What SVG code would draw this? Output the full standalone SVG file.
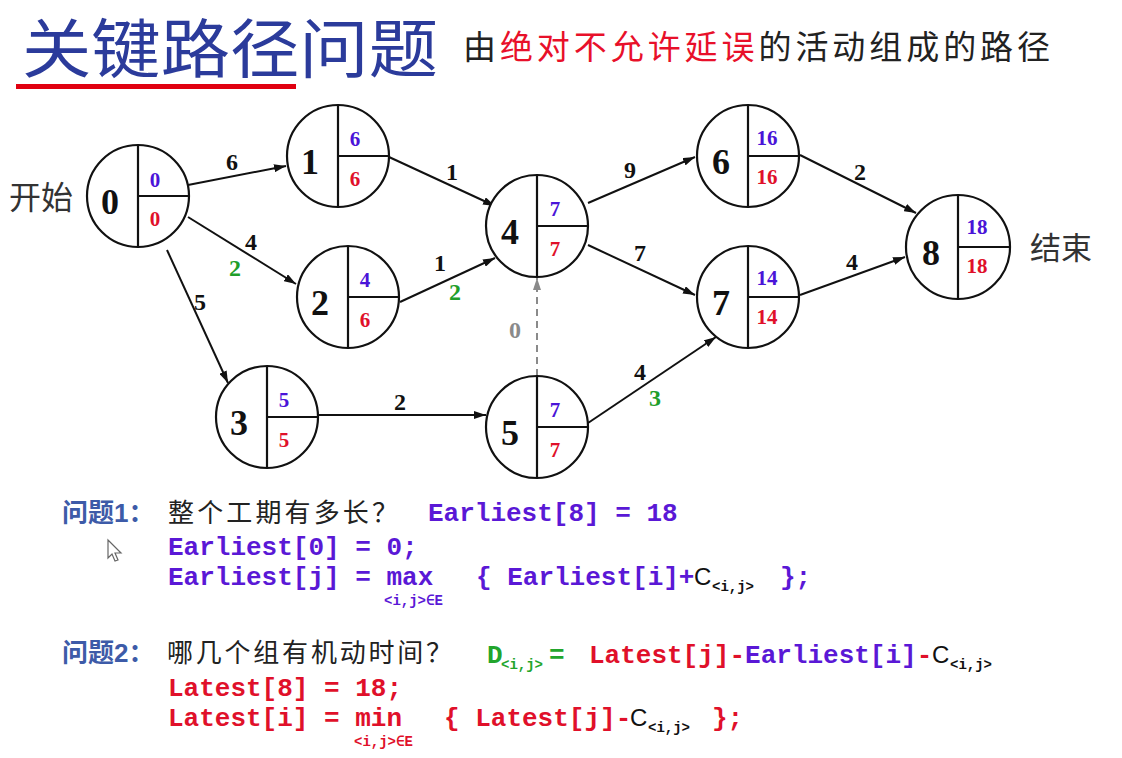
<svg xmlns="http://www.w3.org/2000/svg" width="1122" height="758" viewBox="0 0 1122 758">
<style>
.cjk{font-family:"Noto Sans CJK SC","Noto Sans",sans-serif}
.ring{fill:#fff;stroke:#111;stroke-width:2.2}
.div{stroke:#111;stroke-width:2.2;fill:none}
.num{font-family:"Liberation Serif",serif;font-weight:bold;font-size:36px;fill:#111;text-anchor:middle}
.ev{font-family:"Liberation Serif",serif;font-weight:bold;font-size:21px;fill:#4a14d8;text-anchor:middle}
.lv{font-family:"Liberation Serif",serif;font-weight:bold;font-size:21px;fill:#e0102a;text-anchor:middle}
.edge{stroke:#111;stroke-width:2;fill:none;marker-end:url(#ah)}
.dash{stroke:#8a8a8a;stroke-width:2;fill:none;stroke-dasharray:7 5;marker-end:url(#ahg)}
.w{font-family:"Liberation Serif",serif;font-weight:bold;font-size:24px;fill:#111;text-anchor:middle}
.wg{font-family:"Liberation Serif",serif;font-weight:bold;font-size:24px;fill:#1f9e2a;text-anchor:middle}
.wz{font-family:"Liberation Serif",serif;font-weight:bold;font-size:24px;fill:#8a8a8a;text-anchor:middle}
.mono{font-family:"Liberation Mono",monospace;font-weight:bold;font-size:26px}
.sub{font-family:"Liberation Mono",monospace;font-weight:bold;font-size:14px}
.c{font-family:"Liberation Sans",sans-serif;font-size:24px;fill:#111}
.pu{fill:#5a18d6}
.rd{fill:#e0102a}
.gr{fill:#22a52c}
.bk{fill:#111}
.q{fill:#3d5ba8}
</style>
<defs>
<marker id="ah" markerUnits="userSpaceOnUse" viewBox="0 0 12 8" refX="12" refY="4" markerWidth="12" markerHeight="8" orient="auto">
<path d="M0,0 L12,4 L0,8 Z" fill="#111"/>
</marker>
<marker id="ahg" markerUnits="userSpaceOnUse" viewBox="0 0 12 8" refX="12" refY="4" markerWidth="12" markerHeight="8" orient="auto">
<path d="M0,0 L12,4 L0,8 Z" fill="#8a8a8a"/>
</marker>
</defs>
<rect width="1122" height="758" fill="#fff"/>

<g id="title">
<text class="cjk" x="22" y="72" font-size="64" fill="#2b3b9b" textLength="416" lengthAdjust="spacingAndGlyphs">关键路径问题</text>
<rect x="16" y="84" width="280" height="5" fill="#e00010"/>
<text class="cjk" x="463" y="59" font-size="33" fill="#222" textLength="587" lengthAdjust="spacing">由<tspan fill="#e8102a">绝对不允许延误</tspan>的活动组成的路径</text>
</g>

<text class="cjk" x="9" y="209" font-size="32" fill="#333">开始</text>
<text class="cjk" x="1030" y="259" font-size="31" fill="#333">结束</text>

<g id="connectors">
<line class="edge" x1="188" y1="185" x2="286" y2="166"/>
<line class="edge" x1="188" y1="217" x2="296" y2="284"/>
<line class="edge" x1="167" y1="250" x2="228" y2="383"/>
<line class="edge" x1="319" y1="415" x2="486" y2="415"/>
<line class="edge" x1="389" y1="157" x2="495" y2="206"/>
<line class="edge" x1="400" y1="302" x2="495" y2="258"/>
<line class="dash" x1="537" y1="376" x2="537" y2="278"/>
<line class="edge" x1="588" y1="203" x2="695" y2="157"/>
<line class="edge" x1="588" y1="245" x2="695" y2="295"/>
<line class="edge" x1="588" y1="423" x2="716" y2="337"/>
<line class="edge" x1="800" y1="155" x2="916" y2="213"/>
<line class="edge" x1="800" y1="295" x2="905" y2="257"/>
<text class="w" x="232" y="170">6</text>
<text class="w" x="251" y="250">4</text>
<text class="wg" x="235" y="276">2</text>
<text class="w" x="200" y="310">5</text>
<text class="w" x="400" y="410">2</text>
<text class="w" x="452" y="180">1</text>
<text class="w" x="440" y="271">1</text>
<text class="wg" x="455" y="300">2</text>
<text class="wz" x="515" y="338">0</text>
<text class="w" x="630" y="178">9</text>
<text class="w" x="640" y="261">7</text>
<text class="w" x="640" y="380">4</text>
<text class="wg" x="655" y="406">3</text>
<text class="w" x="860" y="180">2</text>
<text class="w" x="852" y="270">4</text>
</g>

<g id="node0">
<circle class="ring" cx="138" cy="196" r="51"/>
<path class="div" d="M138,145 V247 M138,196 H189"/>
<text class="num" x="110" y="214">0</text>
<text class="ev" x="155" y="187">0</text>
<text class="lv" x="155" y="226">0</text>
</g>
<g id="node1">
<circle class="ring" cx="338" cy="156" r="51"/>
<path class="div" d="M338,105 V207 M338,156 H389"/>
<text class="num" x="310" y="174">1</text>
<text class="ev" x="355" y="146">6</text>
<text class="lv" x="355" y="186">6</text>
</g>
<g id="node2">
<circle class="ring" cx="348" cy="297" r="51"/>
<path class="div" d="M348,246 V348 M348,297 H399"/>
<text class="num" x="320" y="315">2</text>
<text class="ev" x="365" y="287">4</text>
<text class="lv" x="365" y="327">6</text>
</g>
<g id="node3">
<circle class="ring" cx="267" cy="417" r="51"/>
<path class="div" d="M267,366 V468 M267,417 H318"/>
<text class="num" x="239" y="435">3</text>
<text class="ev" x="284" y="407">5</text>
<text class="lv" x="284" y="447">5</text>
</g>
<g id="node4">
<circle class="ring" cx="537" cy="226" r="51"/>
<path class="div" d="M537,175 V277 M537,226 H588"/>
<text class="num" x="510" y="244">4</text>
<text class="ev" x="555" y="216">7</text>
<text class="lv" x="555" y="256">7</text>
</g>
<g id="node5">
<circle class="ring" cx="537" cy="427" r="51"/>
<path class="div" d="M537,376 V478 M537,427 H588"/>
<text class="num" x="510" y="445">5</text>
<text class="ev" x="555" y="417">7</text>
<text class="lv" x="555" y="457">7</text>
</g>
<g id="node6">
<circle class="ring" cx="748" cy="156" r="51"/>
<path class="div" d="M748,105 V207 M748,156 H799"/>
<text class="num" x="721" y="174">6</text>
<text class="ev" x="767" y="145">16</text>
<text class="lv" x="767" y="184">16</text>
</g>
<g id="node7">
<circle class="ring" cx="748" cy="297" r="51"/>
<path class="div" d="M748,246 V348 M748,297 H799"/>
<text class="num" x="721" y="315">7</text>
<text class="ev" x="767" y="285">14</text>
<text class="lv" x="767" y="324">14</text>
</g>
<g id="node8">
<circle class="ring" cx="958" cy="247" r="52"/>
<path class="div" d="M958,195 V299 M958,247 H1010"/>
<text class="num" x="931" y="265">8</text>
<text class="ev" x="977" y="234">18</text>
<text class="lv" x="977" y="273">18</text>
</g>

<g id="question1">
<text class="cjk q" x="62" y="522" font-size="26" font-weight="bold">问题<tspan font-family="Liberation Sans">1</tspan>：</text>
<text class="cjk" x="168" y="522" font-size="26" fill="#222" textLength="230" lengthAdjust="spacing">整个工期有多长？</text>
<text class="mono pu" x="428" y="521">Earliest[8] = 18</text>
<text class="mono pu" x="168" y="555">Earliest[0] = 0;</text>
<text class="mono pu" x="168" y="585">Earliest[j] = max</text>
<text class="sub pu" x="384" y="605">&lt;i,j&gt;∈E</text>
<text class="mono pu" x="476" y="585">{ Earliest[i]+</text>
<text class="c" x="694" y="585">C</text>
<text class="sub bk" x="712" y="591">&lt;i,j&gt;</text>
<text class="mono pu" x="780" y="585">};</text>
</g>

<g id="question2">
<text class="cjk q" x="62" y="662" font-size="26" font-weight="bold">问题<tspan font-family="Liberation Sans">2</tspan>：</text>
<text class="cjk" x="167" y="662" font-size="26" fill="#222" textLength="285" lengthAdjust="spacing">哪几个组有机动时间？</text>
<text class="mono gr" x="487" y="663" font-size="24">D</text>
<text class="sub gr" x="501" y="669">&lt;i,j&gt;</text>
<text class="mono gr" x="549" y="663" font-size="24">=</text>
<text class="mono" x="589" y="663"><tspan class="rd">Latest[j]-</tspan><tspan class="pu">Earliest[i]</tspan><tspan class="rd">-</tspan></text>
<text class="c" x="932" y="663">C</text>
<text class="sub bk" x="950" y="669">&lt;i,j&gt;</text>
<text class="mono rd" x="168" y="696">Latest[8] = 18;</text>
<text class="mono rd" x="168" y="726">Latest[i] = min</text>
<text class="sub rd" x="354" y="746">&lt;i,j&gt;∈E</text>
<text class="mono rd" x="444" y="726">{ Latest[j]-</text>
<text class="c" x="630" y="726">C</text>
<text class="sub bk" x="648" y="732">&lt;i,j&gt;</text>
<text class="mono rd" x="712" y="726">};</text>
</g>

<path d="M108,540 L108,558 L112,554 L115,561 L118,560 L115,553 L121,553 Z" fill="#fff" stroke="#666" stroke-width="1.2"/>
</svg>
